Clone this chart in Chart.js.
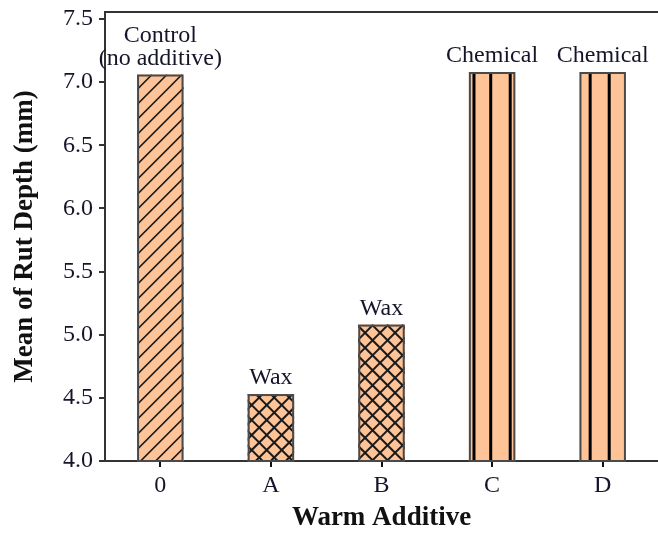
<!DOCTYPE html>
<html>
<head>
<meta charset="utf-8">
<script src="https://cdn.jsdelivr.net/npm/chart.js@4.4.1/dist/chart.umd.min.js"></script>
<style>
  html, body { margin: 0; padding: 0; background: #fff; }
  #rut_chart { display: block; }
</style>
</head>
<body>
<canvas id="rut_chart" width="658" height="535"></canvas>
<script>
// data
var categories = ["0", "A", "B", "C", "D"];
var rutDepth = [7.06, 4.53, 5.08, 7.08, 7.08];
var barNotes = [["Control", "(no additive)"], ["Wax"], ["Wax"], ["Chemical"], ["Chemical"]];
var yTicks = [4.0, 4.5, 5.0, 5.5, 6.0, 6.5, 7.0, 7.5];

// fill style of each bar
var hatchKind = ["diag", "cross", "cross", "vert3", "vert2"];
var vertLines = { vert3: [0.11, 0.47, 0.89], vert2: [0.23, 0.64] };

var serif = "'Liberation Serif', 'Times New Roman', serif";

var hatchPlugin = {
  id: "hatch",
  afterDatasetsDraw: function(chart) {
    var ctx = chart.ctx;
    var a = chart.chartArea;
    var meta = chart.getDatasetMeta(0);
    meta.data.forEach(function(bar, i) {
      var p = bar.getProps(["x", "y", "base", "width"], true);
      var bottom = Math.min(p.base, a.bottom);
      var l = p.x - p.width / 2, w = p.width, top = p.y, h = bottom - p.y;
      ctx.save();
      ctx.beginPath();
      ctx.rect(l, top, w, h);
      ctx.clip();
      ctx.strokeStyle = "#1a1a1a";
      var kind = hatchKind[i];
      if (kind == "diag" || kind == "cross") {
        ctx.lineWidth = kind == "diag" ? 1.6 : 2;
        for (var k = l - h; k < l + w + h; k += 15) {
          ctx.beginPath();
          ctx.moveTo(k, bottom);
          ctx.lineTo(k + h, top);
          ctx.stroke();
          if (kind == "cross") {
            ctx.beginPath();
            ctx.moveTo(k, top);
            ctx.lineTo(k + h, bottom);
            ctx.stroke();
          }
        }
      } else {
        ctx.lineWidth = 3;
        ctx.strokeStyle = "#000";
        vertLines[kind].forEach(function(f) {
          ctx.beginPath();
          ctx.moveTo(l + f * w, top);
          ctx.lineTo(l + f * w, bottom);
          ctx.stroke();
        });
      }
      ctx.restore();

      ctx.save();
      ctx.strokeStyle = "#4a4a4a";
      ctx.lineWidth = 2;
      ctx.strokeRect(l + 1, top + 1, w - 2, h - 1);
      ctx.restore();

      // labels over the bars
      ctx.save();
      ctx.fillStyle = "#15152a";
      ctx.font = "24px " + serif;
      ctx.textAlign = "center";
      ctx.textBaseline = "alphabetic";
      var lines = barNotes[i];
      for (var j = 0; j < lines.length; j++) {
        ctx.fillText(lines[j], p.x, top - 10 - (lines.length - 1 - j) * 23);
      }
      ctx.restore();
    });

    // top frame line
    ctx.save();
    ctx.strokeStyle = "#333";
    ctx.lineWidth = 2;
    ctx.beginPath();
    ctx.moveTo(a.left, a.top);
    ctx.lineTo(chart.width, a.top);
    ctx.stroke();
    ctx.restore();
  }
};

var ctx = document.getElementById("rut_chart");

var myChart = new Chart(ctx, {
  type: "bar",
  plugins: [hatchPlugin],
  data: {
    labels: categories,
    datasets: [{
      data: rutDepth,
      backgroundColor: "#fec396",
      borderColor: "#4a4a4a",
      borderWidth: 0,
      barPercentage: 0.42,
      categoryPercentage: 1.0
    }]
  },
  options: {
    responsive: false,
    animation: false,
    devicePixelRatio: 1,
    layout: { padding: { top: 12, left: 0, right: 0, bottom: 0 } },
    plugins: {
      legend: { display: false },
      tooltip: { enabled: false }
    },
    scales: {
      x: {
        offset: true,
        grid: {
          offset: false,
          drawOnChartArea: false,
          tickLength: 6,
          color: "#111",
          lineWidth: 2
        },
        border: { display: true, color: "#333", width: 2 },
        ticks: {
          color: "#15152a",
          padding: 4,
          font: { family: serif, size: 24 }
        },
        title: {
          display: true,
          text: "Warm Additive",
          color: "#111",
          padding: { top: 0, bottom: 1 },
          font: { family: serif, size: 27, weight: "bold" }
        },
        afterFit: function(s) {
          s.height = 74;
          s.paddingLeft = 0;
          s.paddingRight = 0;
        }
      },
      y: {
        min: 4,
        max: 7.555,
        afterBuildTicks: function(axis) {
          axis.ticks = yTicks.map(function(v) { return { value: v }; });
        },
        grid: {
          drawOnChartArea: false,
          tickLength: 6,
          color: "#333",
          lineWidth: 2
        },
        border: { display: true, color: "#333", width: 2 },
        ticks: {
          color: "#15152a",
          padding: 6,
          font: { family: serif, size: 24 },
          callback: function(v) { return Number(v).toFixed(1); }
        },
        title: {
          display: true,
          text: "Mean of Rut Depth (mm)",
          color: "#111",
          padding: { top: 9, bottom: 0 },
          font: { family: serif, size: 27, weight: "bold" }
        },
        afterFit: function(s) {
          s.width = 105;
          s.paddingTop = 12;
          s.paddingBottom = 0;
        }
      }
    }
  }
});
</script>
</body>
</html>
